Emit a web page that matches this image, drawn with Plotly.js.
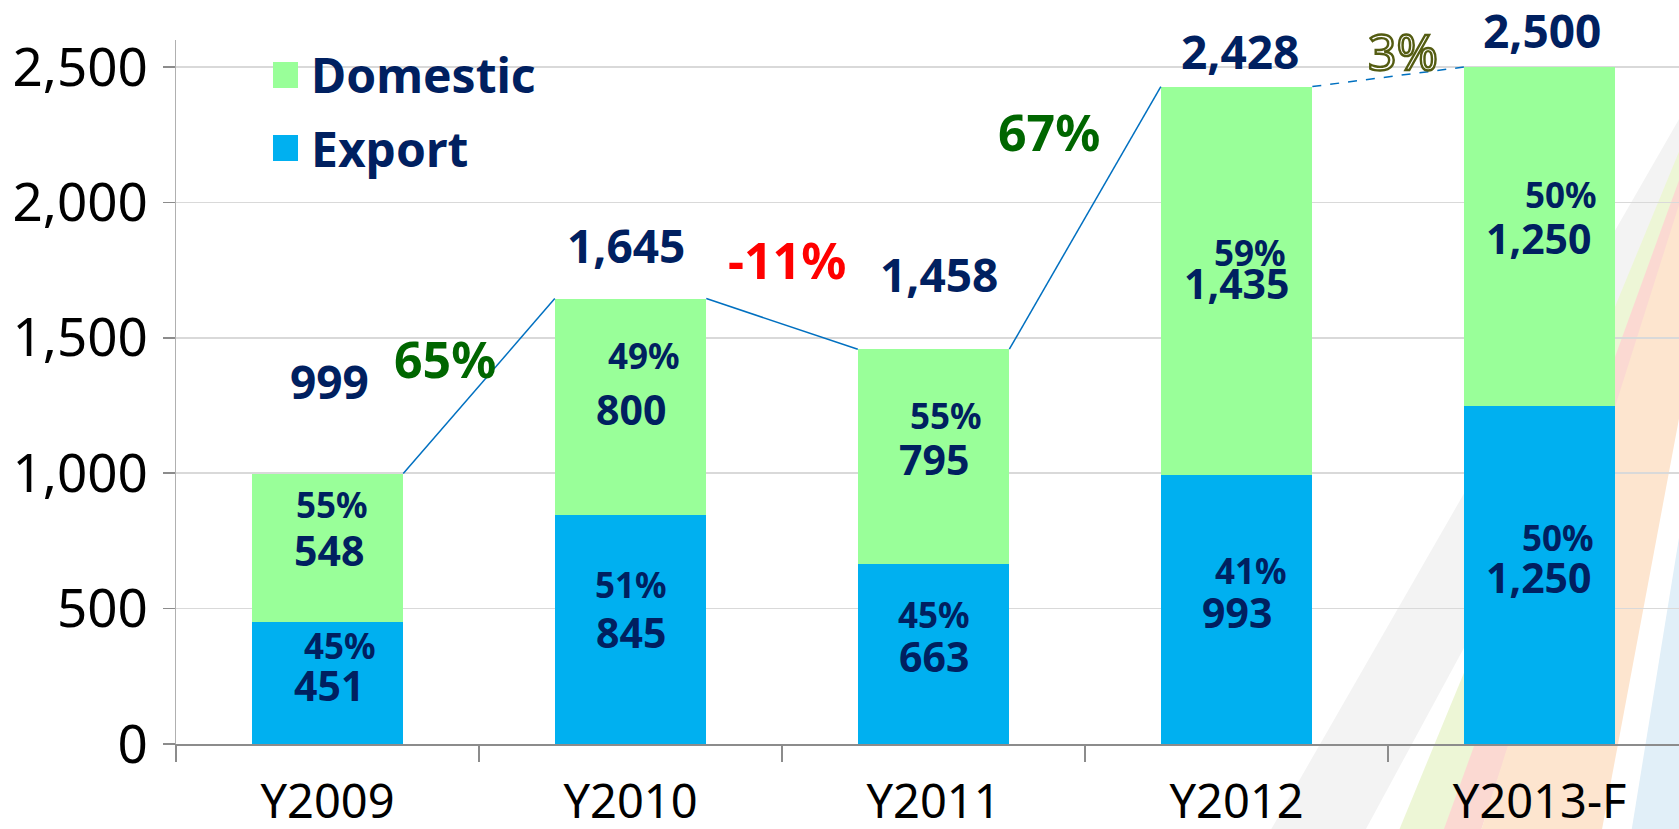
<!DOCTYPE html>
<html>
<head>
<meta charset="utf-8">
<script src="https://cdn.plot.ly/plotly-3.0.1.min.js"></script>
<style>html,body{margin:0;padding:0;background:#fff;}#chart{width:1679px;height:829px;}</style>
</head>
<body>
<div id="chart"></div>
<script>
// ---- data ----
const categories = ['Y2009', 'Y2010', 'Y2011', 'Y2012', 'Y2013-F'];
const exportVals = [451, 845, 663, 993, 1250];
const domesticVals = [548, 800, 795, 1435, 1250];
const totals = [999, 1645, 1458, 2428, 2500];
const yTickVals = [0, 500, 1000, 1500, 2000, 2500];
const seriesNames = ['Domestic', 'Export'];

// ---- style ----
const W = 1679, H = 829;
const M = {l: 176, r: 0, t: 40, b: 85};
const NAVY = '#002060';
const GREEN = '#99FF99';
const BLUE = '#00B0F0';
const LINE = '#0070C0';
const FONT = 'Noto Sans';

const fmt = v => v.toLocaleString('en-US');
const pct = (a, b) => Math.round(a / b * 100) + '%';
const idx = categories.map((c, i) => i);

// label offsets (pixels)
const totalShift = {x: [1.5, -4.5, 5.5, 3.5, 2.5], y: [93, 54, 75, 36, 37]};
const growthShift = {x: [-34, 5, -36, 15], y: [27, 64, 86, 26]};
const growthColors = ['#006600', '#FF0000', '#006600', null];
const numShiftX = [1.5, 0.5, 0.5, 0.5, -0.5];
const expPctShift = {x: [12.5, 0.5, 0.5, 14.5, 18.5], y: [37, 45, 40, 39, 37]};
const domPctShift = {x: [4.5, 13.5, 12.5, 13.5, 21.5], y: [43, 51, 41, 28, 42]};

const traces = [
  {type: 'bar', name: seriesNames[1], x: idx, y: exportVals, width: 0.5,
   marker: {color: BLUE}, hoverinfo: 'skip', showlegend: false},
  {type: 'bar', name: seriesNames[0], x: idx, y: domesticVals, width: 0.5,
   marker: {color: GREEN}, hoverinfo: 'skip', showlegend: false}
];
// connecting lines between bar top corners
for (let i = 0; i < totals.length - 1; i++) {
  traces.push({type: 'scatter', mode: 'lines', x: [i + 0.25, i + 0.75], y: [totals[i], totals[i + 1]],
    line: {color: LINE, width: 1.5, dash: (i === totals.length - 2) ? 'dash' : 'solid'},
    hoverinfo: 'skip', showlegend: false, cliponaxis: false});
}

const ann = [];
// totals
totals.forEach((t, i) => ann.push({x: i, y: t, xref: 'x', yref: 'y', text: fmt(t), showarrow: false,
  xanchor: 'center', yanchor: 'middle', xshift: totalShift.x[i], yshift: totalShift.y[i],
  font: {family: FONT, size: 46, color: NAVY, weight: 700}}));
// growth
for (let i = 0; i < totals.length - 1; i++) {
  const g = Math.round((totals[i + 1] / totals[i] - 1) * 100) + '%';
  const last = i === totals.length - 2;
  ann.push({x: i + 0.5, y: (totals[i] + totals[i + 1]) / 2, xref: 'x', yref: 'y', showarrow: false,
    text: last ? "<span style='fill:#ffffff;stroke:#545c12;stroke-width:2.4px'>" + g + "</span>" : g,
    xanchor: 'center', yanchor: 'middle', xshift: growthShift.x[i], yshift: growthShift.y[i],
    font: {family: FONT, size: 50, color: last ? '#ffffff' : growthColors[i], weight: last ? 400 : 700}});
}
// inner labels
idx.forEach(i => {
  const em = exportVals[i] / 2;
  const dm = exportVals[i] + domesticVals[i] / 2;
  ann.push({x: i, y: em, xref: 'x', yref: 'y', text: fmt(exportVals[i]), showarrow: false,
    xanchor: 'center', yanchor: 'middle', xshift: numShiftX[i], yshift: -2,
    font: {family: FONT, size: 41, color: NAVY, weight: 700}});
  ann.push({x: i, y: dm, xref: 'x', yref: 'y', text: fmt(domesticVals[i]), showarrow: false,
    xanchor: 'center', yanchor: 'middle', xshift: numShiftX[i], yshift: -2,
    font: {family: FONT, size: 41, color: NAVY, weight: 700}});
  ann.push({x: i, y: em, xref: 'x', yref: 'y', text: pct(exportVals[i], totals[i]), showarrow: false,
    xanchor: 'center', yanchor: 'middle', xshift: expPctShift.x[i], yshift: expPctShift.y[i],
    font: {family: FONT, size: 35, color: NAVY, weight: 700}});
  ann.push({x: i, y: dm, xref: 'x', yref: 'y', text: pct(domesticVals[i], totals[i]), showarrow: false,
    xanchor: 'center', yanchor: 'middle', xshift: domPctShift.x[i], yshift: domPctShift.y[i],
    font: {family: FONT, size: 35, color: NAVY, weight: 700}});
});

// pixel -> paper helpers
const pw = W - M.l - M.r, ph = H - M.t - M.b;
const px = X => (X - M.l) / pw;
const py = Y => (H - M.b - Y) / ph;

// custom legend
const legendItems = [{name: seriesNames[0], color: GREEN, y: 75}, {name: seriesNames[1], color: BLUE, y: 148}];
const shapes = [];
legendItems.forEach(it => {
  shapes.push({type: 'rect', xref: 'paper', yref: 'paper', x0: px(273), x1: px(298), y0: py(it.y - 13), y1: py(it.y + 13),
    fillcolor: it.color, line: {width: 0}, layer: 'above'});
  ann.push({xref: 'paper', yref: 'paper', x: px(309), y: py(it.y), text: it.name, showarrow: false,
    xanchor: 'left', yanchor: 'middle', font: {family: FONT, size: 48, color: NAVY, weight: 700}});
});

// decorative background stripes (bottom right)
const poly = (pts, color) => {
  let p = 'M' + pts.map(q => px(q[0]) + ',' + py(q[1])).join(' L') + ' Z';
  shapes.push({type: 'path', xref: 'paper', yref: 'paper', path: p, fillcolor: color, line: {width: 0}, layer: 'below'});
};
poly([[1265, 840], [1360, 840], [1690, 230], [1690, 100]], '#f3f3f3');
poly([[1395, 840], [1470, 840], [1690, 200], [1690, 125]], '#edf6d6');
poly([[1440, 840], [1478, 840], [1690, 190], [1690, 150]], '#fbd9d2');
poly([[1478, 840], [1600, 840], [1690, 360], [1690, 170]], '#fde5cf');
poly([[1630, 840], [1690, 840], [1690, 470]], '#e1eff8');

const layout = {
  width: W, height: H,
  margin: M,
  paper_bgcolor: '#ffffff',
  plot_bgcolor: 'rgba(0,0,0,0)',
  barmode: 'stack',
  showlegend: false,
  xaxis: {
    type: 'linear', range: [-0.5, 4.46], tickmode: 'array', tickvals: idx, ticktext: categories,
    ticks: '', showgrid: false, zeroline: false, showline: true, linecolor: '#8c8c8c', linewidth: 1.5,
    ticklabelstandoff: 16, tickfont: {family: FONT, size: 47, color: '#000'},
    minor: {tickmode: 'array', tickvals: [-0.5, 0.5, 1.5, 2.5, 3.5, 4.5], ticks: 'outside', ticklen: 16,
            tickcolor: '#8c8c8c', tickwidth: 1.5, showgrid: false},
    fixedrange: true
  },
  yaxis: {
    range: [0, 2600], tickmode: 'array', tickvals: yTickVals, ticktext: yTickVals.map(fmt),
    ticks: 'outside', ticklen: 12, tickcolor: '#8c8c8c', tickwidth: 1.5,
    showgrid: true, gridcolor: '#d9d9d9', gridwidth: 1.5, zeroline: false,
    showline: true, linecolor: '#b0b0b0', linewidth: 1.5,
    ticklabelstandoff: 4, tickfont: {family: FONT, size: 53, color: '#000'},
    fixedrange: true
  },
  annotations: ann,
  shapes: shapes
};

Plotly.newPlot('chart', traces, layout, {displayModeBar: false, staticPlot: true});
</script>
</body>
</html>
